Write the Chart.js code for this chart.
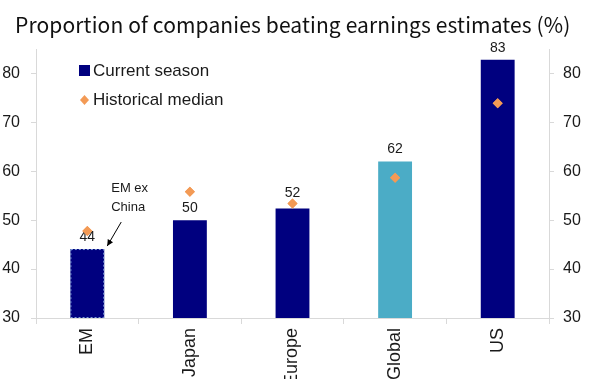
<!DOCTYPE html>
<html>
<head>
<meta charset="utf-8">
<script src="https://cdn.jsdelivr.net/npm/chart.js@4.4.1/dist/chart.umd.min.js"></script>
<style>
html,body{margin:0;padding:0;background:#fff;overflow:hidden;}
#wrap{width:600px;height:379px;position:relative;}
</style>
</head>
<body>
<div id="wrap"><canvas id="c" width="600" height="379"></canvas></div>
<script>
const titleText = 'Proportion of companies beating earnings estimates (%)';
const categories = ['EM', 'Japan', 'Europe', 'Global', 'US'];
const currentSeason = [44.1, 50.0, 52.4, 62.0, 82.8];
const historicalMedian = [47.8, 55.8, 53.4, 58.7, 73.9];
const barColors = ['#00007f', '#00007f', '#00007f', '#4bacc6', '#00007f'];
const yTicks = [30, 40, 50, 60, 70, 80];
const legendLabels = ['Current season', 'Historical median'];
const noteLines = ['EM ex', 'China'];

const NAVY = '#00007f';
const ORANGE = '#f39a55';
const AXIS = '#d9d9d9';
const TXT = '#1a1a1a';
const SANS = '"Liberation Sans", Arial, sans-serif';

const decor = {
  id: 'decor',
  afterDatasetsDraw(chart) {
    const ctx = chart.ctx;
    const ca = chart.chartArea;
    const bars = chart.getDatasetMeta(0).data;
    const pts = chart.getDatasetMeta(1).data;
    ctx.save();
    // dashed border on EM bar
    const em = bars[0];
    const l = em.x - em.width / 2, r = em.x + em.width / 2;
    const bottom = Math.min(em.base, ca.bottom);
    ctx.setLineDash([2, 2]);
    ctx.strokeStyle = '#7f9fd8';
    ctx.lineWidth = 1;
    ctx.strokeRect(l + 0.5, em.y + 0.5, r - l - 1, bottom - em.y - 1);
    ctx.setLineDash([]);
    // value labels (moved above the diamond when it sits just above the bar)
    ctx.fillStyle = TXT;
    ctx.font = '14px ' + SANS;
    ctx.textAlign = 'center';
    ctx.textBaseline = 'middle';
    bars.forEach((b, i) => {
      let y = b.y - 12;
      const gap = b.y - pts[i].y;
      if (gap > 0 && gap < 12) y = pts[i].y - 10;
      ctx.fillText(String(Math.round(currentSeason[i])), b.x, y);
    });
    // re-draw diamonds above labels
    pts.forEach(p => p.draw(ctx));
    // annotation
    ctx.font = '13px ' + SANS;
    ctx.textAlign = 'left';
    ctx.fillStyle = TXT;
    ctx.fillText(noteLines[0], r + 7, em.y - 61);
    ctx.fillText(noteLines[1], r + 7, em.y - 42);
    const x1 = r + 17, y1 = em.y - 27, x2 = r + 3, y2 = em.y - 3;
    ctx.strokeStyle = '#000';
    ctx.lineWidth = 1;
    ctx.beginPath(); ctx.moveTo(x1, y1); ctx.lineTo(x2, y2); ctx.stroke();
    const ang = Math.atan2(y2 - y1, x2 - x1);
    ctx.beginPath();
    ctx.moveTo(x2, y2);
    ctx.lineTo(x2 - 7 * Math.cos(ang - 0.45), y2 - 7 * Math.sin(ang - 0.45));
    ctx.lineTo(x2 - 7 * Math.cos(ang + 0.45), y2 - 7 * Math.sin(ang + 0.45));
    ctx.closePath();
    ctx.fillStyle = '#000';
    ctx.fill();
    ctx.restore();
  },
  afterDraw(chart) {
    const ctx = chart.ctx;
    const ca = chart.chartArea;
    ctx.save();
    // title
    ctx.fillStyle = '#111';
    ctx.font = '21px "Noto Sans CJK JP", "Noto Sans", sans-serif';
    try { ctx.letterSpacing = '0.13px'; } catch (e) {}
    ctx.textAlign = 'left';
    ctx.textBaseline = 'alphabetic';
    ctx.fillText(titleText, 15, 33);
    try { ctx.letterSpacing = '0px'; } catch (e) {}
    // legend
    const lx = ca.left + 43, ly = ca.top + 21;
    ctx.fillStyle = NAVY;
    ctx.fillRect(lx, ly - 5, 11, 11);
    ctx.fillStyle = ORANGE;
    const dx = lx + 5.5, dy = ly + 30;
    ctx.beginPath();
    ctx.moveTo(dx, dy - 5); ctx.lineTo(dx + 4.5, dy); ctx.lineTo(dx, dy + 5); ctx.lineTo(dx - 4.5, dy);
    ctx.closePath(); ctx.fill();
    ctx.fillStyle = TXT;
    ctx.font = '17px ' + SANS;
    ctx.textBaseline = 'middle';
    ctx.fillText(legendLabels[0], lx + 14, ly + 1);
    ctx.fillText(legendLabels[1], lx + 14, dy);
    ctx.restore();
  }
};

const yCommon = (pos, width, pad) => ({
  position: pos,
  min: 30, max: 85,
  afterBuildTicks: s => { s.ticks = yTicks.map(v => ({ value: v })); },
  afterFit: s => { s.width = width; },
  grid: { drawOnChartArea: false, drawTicks: true, tickLength: 5, color: AXIS },
  border: { display: true, color: AXIS, width: 1 },
  ticks: { color: TXT, font: { family: SANS, size: 16 }, padding: pad }
});

new Chart(document.getElementById('c'), {
  data: {
    labels: categories,
    datasets: [
      {
        type: 'bar',
        label: legendLabels[0],
        data: currentSeason,
        backgroundColor: barColors,
        barPercentage: 0.33,
        categoryPercentage: 1.0,
        yAxisID: 'y',
        order: 2
      },
      {
        type: 'line',
        label: legendLabels[1],
        data: historicalMedian,
        showLine: false,
        pointStyle: 'rectRot',
        pointRadius: 5,
        pointBackgroundColor: ORANGE,
        pointBorderColor: ORANGE,
        pointBorderWidth: 0,
        yAxisID: 'y',
        order: 1
      }
    ]
  },
  options: {
    responsive: false,
    animation: false,
    devicePixelRatio: 1,
    layout: { padding: { top: 49, left: 0, right: 0, bottom: 0 } },
    plugins: { legend: { display: false }, tooltip: { enabled: false }, title: { display: false } },
    scales: {
      x: {
        offset: true,
        afterFit: s => { s.height = 61; },
        grid: { drawOnChartArea: false, drawTicks: true, tickLength: 6, color: AXIS, offset: true },
        border: { display: true, color: AXIS },
        ticks: { color: TXT, font: { family: SANS, size: 18 }, minRotation: 90, maxRotation: 90, padding: 4, autoSkip: false }
      },
      y: yCommon('left', 36, 11),
      y2: yCommon('right', 51, 9)
    }
  },
  plugins: [decor]
});
</script>
</body>
</html>
